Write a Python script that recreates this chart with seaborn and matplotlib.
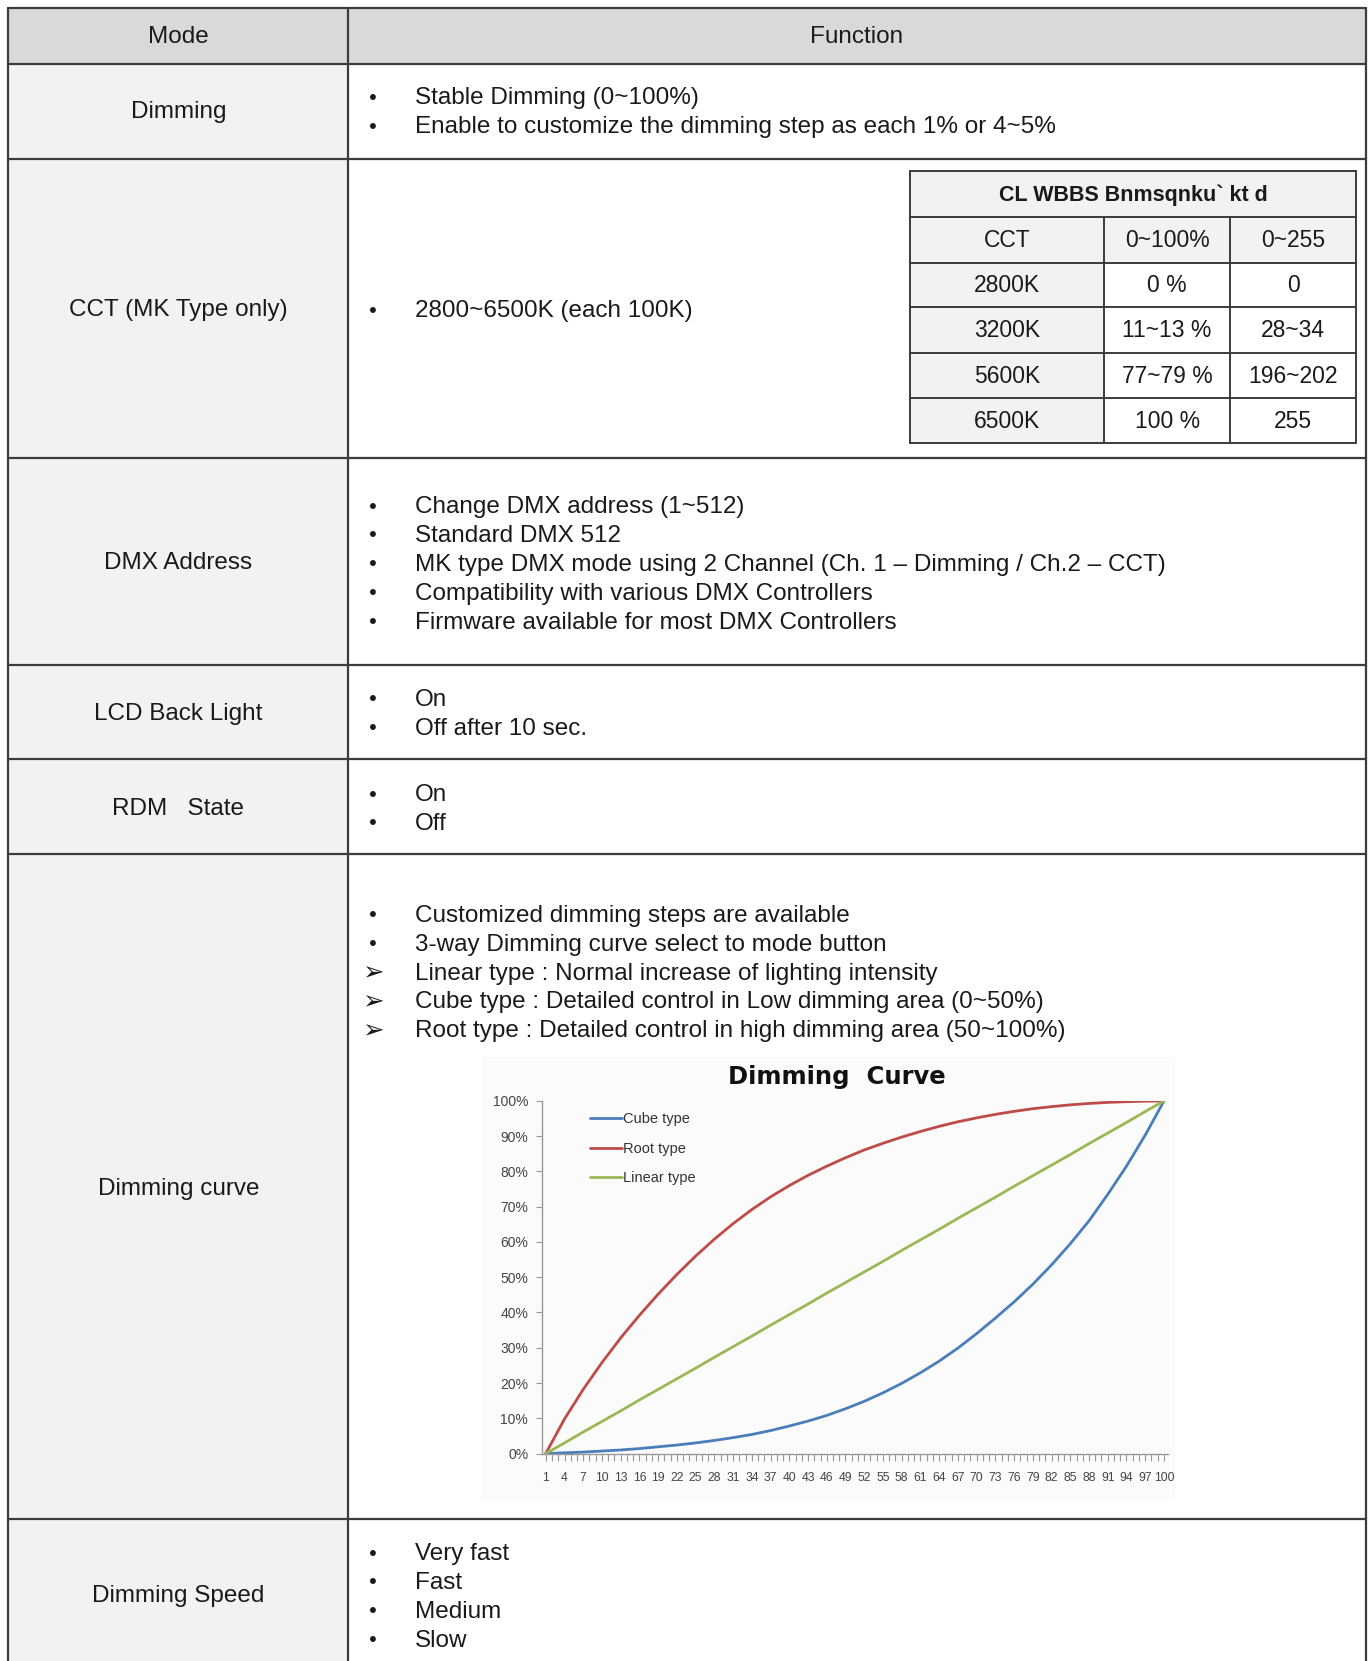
import numpy as np
import pandas as pd
import seaborn as sns
import matplotlib.pyplot as plt
from matplotlib.patches import Rectangle

# table content
header = ["Mode", "Function"]
modes = ["Dimming", "CCT (MK Type only)", "DMX Address", "LCD Back Light",
         "RDM   State", "Dimming curve", "Dimming Speed"]
functions = [
    ["Stable Dimming (0~100%)", "Enable to customize the dimming step as each 1% or 4~5%"],
    ["2800~6500K (each 100K)"],
    ["Change DMX address (1~512)", "Standard DMX 512",
     "MK type DMX mode using 2 Channel (Ch. 1 \u2013 Dimming / Ch.2 \u2013 CCT)",
     "Compatibility with various DMX Controllers", "Firmware available for most DMX Controllers"],
    ["On", "Off after 10 sec."],
    ["On", "Off"],
    ["Customized dimming steps are available", "3-way Dimming curve select to mode button",
     "Linear type : Normal increase of lighting intensity",
     "Cube type : Detailed control in Low dimming area (0~50%)",
     "Root type : Detailed control in high dimming area (50~100%)"],
    ["Very fast", "Fast", "Medium", "Slow"],
]
curve_bullets = ["\u2022", "\u2022", "\u27a2", "\u27a2", "\u27a2"]

cct_title = "CL WBBS Bnmsqnku` kt d"
cct_cols = ["CCT", "0~100%", "0~255"]
cct_rows = [["2800K", "0 %", "0"],
            ["3200K", "11~13 %", "28~34"],
            ["5600K", "77~79 %", "196~202"],
            ["6500K", "100 %", "255"]]

# dimming curve values (% output per step)
steps = [1, 4, 7, 10, 13, 16, 19, 22, 25, 28, 31, 34, 37, 40, 43, 46, 49,
         52, 55, 58, 61, 64, 67, 70, 73, 76, 79, 82, 85, 88, 91, 94, 97, 100]
cube = [0, 0.2, 0.4, 0.7, 1.0, 1.4, 1.9, 2.4, 3.0, 3.7, 4.5, 5.4, 6.5, 7.8,
        9.2, 10.8, 12.7, 14.8, 17.2, 19.9, 22.9, 26.2, 29.9, 34.0, 38.4, 43.0,
        48.0, 53.5, 59.5, 66.0, 73.5, 81.5, 90.3, 100]
root = [0, 9.8, 18.2, 25.8, 32.8, 39.2, 45.2, 50.8, 56.0, 60.8, 65.2, 69.2,
        72.8, 76.0, 78.9, 81.5, 83.9, 86.1, 88.0, 89.75, 91.35, 92.8, 94.1,
        95.2, 96.2, 97.05, 97.8, 98.4, 98.9, 99.3, 99.6, 99.8, 99.95, 100]
linear = [0, 3.0, 6.1, 9.1, 12.1, 15.2, 18.2, 21.2, 24.2, 27.3, 30.3, 33.3,
          36.4, 39.4, 42.4, 45.5, 48.5, 51.5, 54.5, 57.6, 60.6, 63.6, 66.7,
          69.7, 72.7, 75.8, 78.8, 81.8, 84.8, 87.9, 90.9, 93.9, 97.0, 100]
series_names = ["Cube type", "Root type", "Linear type"]
series_colors = ["#4a7ebb", "#be4b48", "#98b954"]

sns.set_style("white")
plt.rcParams['font.family'] = ['Liberation Sans', 'DejaVu Sans']

W, H = 1296, 1569
fig = plt.figure(figsize=(13.72, 16.61), dpi=100)
ax = fig.add_axes([0, 0, 1, 1])
ax.set_xlim(0, W)
ax.set_ylim(H, 0)
ax.axis('off')

edge = '#3c3c3c'
txt = '#1a1a1a'
fs = 17.5
x0, xd, x1 = 8, 329, 1290
rows_y = [8, 60, 150, 433, 628, 717, 807, 1435, H + 5]

# backgrounds
ax.add_patch(Rectangle((x0, rows_y[0]), x1 - x0, rows_y[1] - rows_y[0], fc='#d9d9d9', ec='none'))
ax.add_patch(Rectangle((x0, rows_y[1]), xd - x0, rows_y[-1] - rows_y[1], fc='#f2f2f2', ec='none'))
ax.add_patch(Rectangle((xd, rows_y[1]), x1 - xd, rows_y[-1] - rows_y[1], fc='white', ec='none'))

for y in rows_y[:-1]:
    ax.plot([x0, x1], [y, y], color=edge, lw=1.6)
for x in (x0, xd, x1):
    ax.plot([x, x], [rows_y[0], rows_y[-1]], color=edge, lw=1.6)

ax.text((x0 + xd) / 2, 35, header[0], ha='center', va='center', fontsize=fs, color=txt)
ax.text((xd + x1) / 2, 35, header[1], ha='center', va='center', fontsize=fs, color=txt)

line_gap = 27.3
starts = [93, 294, 479, 661, 751, 865, 1468]
mode_y = [106, 293, 532, 674, 764, 1123, 1508]
for i, mode in enumerate(modes):
    ax.text((x0 + xd) / 2, mode_y[i], mode, ha='center', va='center', fontsize=fs, color=txt)
    for j, line in enumerate(functions[i]):
        y = starts[i] + j * line_gap
        mark = curve_bullets[j] if mode == "Dimming curve" else "\u2022"
        ax.text(352, y, mark, ha='center', va='center',
                fontsize=fs - 3 if mark == "\u2022" else fs + 1,
                color=txt, family=['DejaVu Sans'])
        ax.text(392, y, line, ha='left', va='center', fontsize=fs, color=txt)

# CCT inner table
cx = [860, 1043, 1162, 1281]
cy = [162, 205, 248, 290, 333, 376, 418]
ax.add_patch(Rectangle((cx[0], cy[0]), cx[3] - cx[0], cy[2] - cy[0], fc='#f2f2f2', ec='none'))
ax.add_patch(Rectangle((cx[0], cy[2]), cx[1] - cx[0], cy[-1] - cy[2], fc='#f2f2f2', ec='none'))
ax.add_patch(Rectangle((cx[1], cy[2]), cx[3] - cx[1], cy[-1] - cy[2], fc='white', ec='none'))
for y in cy:
    ax.plot([cx[0], cx[3]], [y, y], color=edge, lw=1.4)
for k, x in enumerate(cx):
    ytop = cy[0] if k in (0, 3) else cy[1]
    ax.plot([x, x], [ytop, cy[-1]], color=edge, lw=1.4)
ax.text((cx[0] + cx[3]) / 2, (cy[0] + cy[1]) / 2 + 1, cct_title, ha='center', va='center',
        fontsize=15.5, fontweight='bold', color=txt)
for k, col in enumerate(cct_cols):
    ax.text((cx[k] + cx[k + 1]) / 2, (cy[1] + cy[2]) / 2 + 1, col, ha='center', va='center',
            fontsize=16.5, color=txt)
for r, row in enumerate(cct_rows):
    for k, val in enumerate(row):
        ax.text((cx[k] + cx[k + 1]) / 2, (cy[r + 2] + cy[r + 3]) / 2 + 1, val, ha='center',
                va='center', fontsize=16.5, color=txt)

# chart backdrop and title
ax.add_patch(Rectangle((455, 998), 655, 420, fc='#fbfbfb', ec='none'))
ax.text(790, 1017, "Dimming  Curve", ha='center', va='center', fontsize=17.5,
        fontweight='bold', color='#111111', family=['DejaVu Sans'])

# dimming curve chart
df = pd.DataFrame({
    "step": steps * 3,
    "level": cube + root + linear,
    "type": [series_names[0]] * len(steps) + [series_names[1]] * len(steps)
            + [series_names[2]] * len(steps),
})
cax = fig.add_axes([512 / W, 1 - 1373 / H, (1103 - 512) / W, (1373 - 1040) / H])
cax.patch.set_alpha(0)
sns.lineplot(data=df, x="step", y="level", hue="type", hue_order=series_names,
             palette=series_colors, linewidth=2.0, ax=cax)
cax.set_xlim(0.4, 100.6)
cax.set_ylim(0, 100)
cax.set_yticks(range(0, 101, 10))
cax.set_yticklabels([f"{v}%" for v in range(0, 101, 10)])
cax.set_xticks(steps)
cax.set_xticklabels([str(s) for s in steps])
cax.set_xticks(range(1, 101), minor=True)
cax.set_xlabel("")
cax.set_ylabel("")
for side in ("top", "right"):
    cax.spines[side].set_visible(False)
for side in ("left", "bottom"):
    cax.spines[side].set_color('#9a9a9a')
    cax.spines[side].set_linewidth(1.0)
cax.tick_params(axis='y', left=True, length=4, color='#9a9a9a', labelsize=10,
                labelcolor='#444444', pad=6)
cax.tick_params(axis='x', which='both', bottom=True, direction='out', length=5,
                width=0.8, color='#9a9a9a', labelsize=8.7, labelcolor='#444444', pad=8)
for lbl in cax.get_xticklabels() + cax.get_yticklabels():
    lbl.set_family(['Liberation Sans Narrow', 'Liberation Sans'])
leg = cax.legend(loc='upper left', bbox_to_anchor=(0.055, 1.005), frameon=False,
                 fontsize=10.5, handlelength=2.2, handletextpad=0.1, labelspacing=1.05)
for t in leg.get_texts():
    t.set_color('#333333')

fig.savefig("out.png", dpi=100)
